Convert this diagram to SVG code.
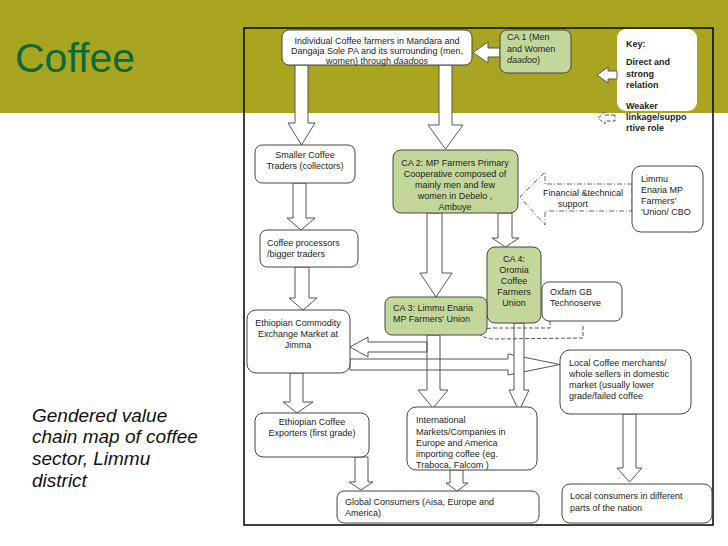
<svg xmlns="http://www.w3.org/2000/svg" width="728" height="546" viewBox="0 0 728 546">
<style>
.t{font-family:"Liberation Sans",Arial,sans-serif;font-size:9px;fill:#222}
.tc{text-anchor:middle}
.b{fill:#fff;stroke:#444;stroke-width:1}
.g{fill:#c4d79b;stroke:#444;stroke-width:1}
.ar{fill:#fff;stroke:#555;stroke-width:1;stroke-linejoin:miter}
.arn{fill:none;stroke:#555;stroke-width:1}
.dash{fill:none;stroke:#555;stroke-width:1;stroke-dasharray:4,2}
.dd{fill:none;stroke:#666;stroke-width:1;stroke-dasharray:5,2,1,2}
.k{font-family:"Liberation Sans",Arial,sans-serif;font-size:9px;font-weight:bold;fill:#222}
</style>
<rect x="0" y="0" width="728" height="546" fill="#fff"/>
<rect x="0" y="0" width="728" height="113" fill="#a9a521"/>
<text x="15" y="72" font-family="Liberation Sans,Arial,sans-serif" font-size="41" fill="#0a6a3a">Coffee</text>
<g font-family="Liberation Sans,Arial,sans-serif" font-size="19" font-style="italic" fill="#111">
<text x="32" y="422">Gendered value</text>
<text x="32" y="443">chain map of coffee</text>
<text x="32" y="465">sector, Limmu</text>
<text x="32" y="487">district</text>
</g>
<rect id="frame" x="244" y="28" width="469" height="497" fill="none" stroke="#000" stroke-width="1.5"/>

<g id="connectors">
<polygon class="ar" points="295,65 308,65 308,123 315,123 301.5,145 288,123 295,123"/>
<polygon class="ar" points="439,65 452,65 452,125 463,125 445.5,149 428,125 439,125"/>
<polygon class="ar" points="500,48 488,48 488,42 473,52.5 488,63 488,57 500,57"/>
<polygon class="ar" points="293,183 306,183 306,218 315,218 301,230 287,218 293,218"/>
<polygon class="ar" points="295,267 309,267 309,298 317,298 303,310 289,298 295,298"/>
<polygon class="ar" points="290,373 303,373 303,402 313,402 297,413 283,402 290,402"/>
<polygon class="ar" points="355,457 368,457 368,482 373,482 361,490 349,482 355,482"/>
<polygon class="ar" points="427,213 442,213 442,273 452,273 436,297 420,273 427,273"/>
<polygon class="ar" points="498,213 512,213 512,238 519,238 505.5,247 492,238 498,238"/>
<polygon class="arn" points="427,342 368,342 368,337 350,347 368,357 368,352 427,352"/>
<polygon class="arn" points="350,359 508,359 508,354 560,364.5 508,375 508,370 350,370"/>
<polygon class="arn" points="427,335 440,335 440,390 448,390 433,408 418,390 427,390"/>
<polygon class="ar" points="514,323 524,323 524,390 529,390 519,411 509,390 514,390"/>
<polygon class="ar" points="450,470 463,470 463,483 468,483 457,491 446,483 450,483"/>
<polygon class="ar" points="623,414 636,414 636,468 642,468 629.5,482 617,468 623,468"/>
<polygon class="dd" points="632,184 545,184 545,172 520,197 545,225 545,211 632,211"/>
<path class="dash" d="M550,321 L550,328 L492,328 Q482,329 472,331"/>
<path class="dash" d="M583,326 L583,338 L492,339 Q484,338 479,334"/>
<path class="dash" d="M480,327 L472,331 L481,335"/>
</g>

<g id="top">
<rect class="b" x="282" y="30" width="190" height="35" rx="7"/>
<text class="t tc" x="377" y="43.5">Individual Coffee farmers in Mandara and</text>
<text class="t tc" x="377" y="54">Dangaja Sole PA and its surrounding (men,</text>
<text class="t tc" x="377" y="64">women) through <tspan font-style="italic">daadoos</tspan></text>
</g>
<g id="ca1">
<rect class="g" x="500" y="30" width="71" height="43" rx="7"/>
<text class="t" x="507" y="40">CA 1 (Men</text>
<text class="t" x="507" y="52">and Women</text>
<text class="t" x="507" y="63" font-style="italic">daadoo<tspan font-style="normal">)</tspan></text>
</g>
<g id="key">
<rect x="617" y="29" width="80" height="82" rx="9" fill="#fff"/>
<text class="k" x="626" y="47">Key:</text>
<text class="k" x="626" y="65">Direct  and</text>
<text class="k" x="626" y="77">strong</text>
<text class="k" x="626" y="88">relation</text>
<text class="k" x="626" y="109">Weaker</text>
<text class="k" x="626" y="120">linkage/suppo</text>
<text class="k" x="626" y="131">rtive role</text>
<polygon class="ar" points="617,71 608,71 608,67 597,75 608,83 608,79 617,79"/>
<polygon class="dash" points="615,115 605,115 605,112 598,118 605,124 605,121 615,121"/>
</g>
<g id="smaller">
<rect class="b" x="255" y="145" width="100" height="38" rx="7"/>
<text class="t tc" x="305" y="158">Smaller Coffee</text>
<text class="t tc" x="305" y="169">Traders (collectors)</text>
</g>
<g id="ca2">
<rect class="g" x="393" y="150" width="125" height="63" rx="8"/>
<text class="t tc" x="455" y="166">CA 2: MP Farmers Primary</text>
<text class="t tc" x="455" y="177">Cooperative composed of</text>
<text class="t tc" x="455" y="188">mainly men  and few</text>
<text class="t tc" x="455" y="199">women in Debelo ,</text>
<text class="t tc" x="455" y="210">Ambuye</text>
</g>
<g id="limmu">
<rect class="b" x="632" y="166" width="71" height="66" rx="9"/>
<text class="t" x="641" y="182">Limmu</text>
<text class="t" x="641" y="193">Enaria MP</text>
<text class="t" x="641" y="204">Farmers'</text>
<text class="t" x="641" y="215">'Union/  CBO</text>
</g>
<g id="support">
<text class="t" x="543" y="196">Financial &amp;technical</text>
<text class="t" x="558" y="207">support</text>
</g>
<g id="processors">
<rect class="b" x="260" y="230" width="98" height="37" rx="7"/>
<text class="t" x="267" y="246">Coffee processors</text>
<text class="t" x="267" y="257">/bigger traders</text>
</g>
<g id="ca4">
<rect class="g" x="487" y="247" width="54" height="76" rx="8"/>
<text class="t tc" x="514" y="262">CA 4:</text>
<text class="t tc" x="514" y="273">Oromia</text>
<text class="t tc" x="514" y="284">Coffee</text>
<text class="t tc" x="514" y="295">Farmers</text>
<text class="t tc" x="514" y="306">Union</text>
</g>
<g id="oxfam">
<rect class="b" x="542" y="282" width="80" height="39" rx="7"/>
<text class="t" x="550" y="295">Oxfam GB</text>
<text class="t" x="550" y="306">Technoserve</text>
</g>
<g id="ca3">
<rect class="g" x="385" y="297" width="102" height="38" rx="7"/>
<text class="t" x="393" y="311">CA 3: Limmu Enaria</text>
<text class="t" x="393" y="322">MP Farmers' Union</text>
</g>
<g id="ecx">
<rect class="b" x="247" y="310" width="103" height="63" rx="9"/>
<text class="t tc" x="298" y="326">Ethiopian Commodity</text>
<text class="t tc" x="298" y="337">Exchange Market  at</text>
<text class="t tc" x="298" y="348">Jimma</text>
</g>
<g id="local-merchants">
<rect class="b" x="560" y="350" width="131" height="64" rx="10"/>
<text class="t" x="569" y="366">Local Coffee merchants/</text>
<text class="t" x="569" y="377">whole sellers in domestic</text>
<text class="t" x="569" y="388">market (usually  lower</text>
<text class="t" x="569" y="399">grade/failed coffee</text>
</g>
<g id="international">
<rect class="b" x="407" y="407" width="130" height="63" rx="9"/>
<text class="t" x="416" y="423">International</text>
<text class="t" x="416" y="435">Markets/Companies in</text>
<text class="t" x="416" y="446">Europe and America</text>
<text class="t" x="416" y="457">importing coffee (eg.</text>
<text class="t" x="416" y="468">Traboca, Falcom )</text>
</g>
<g id="exporters">
<rect class="b" x="255" y="413" width="114" height="44" rx="8"/>
<text class="t tc" x="312" y="425">Ethiopian Coffee</text>
<text class="t tc" x="312" y="436">Exporters (first grade)</text>
</g>
<g id="global">
<rect class="b" x="337" y="491" width="202" height="32" rx="7"/>
<text class="t" x="345" y="505">Global Consumers (Aisa, Europe and</text>
<text class="t" x="345" y="516">America)</text>
</g>
<g id="local-consumers">
<rect class="b" x="562" y="484" width="150" height="39" rx="8"/>
<text class="t" x="570" y="499" font-size="10.5">Local consumers in different</text>
<text class="t" x="570" y="511" font-size="10.5">parts of the nation</text>
</g>
</svg>
